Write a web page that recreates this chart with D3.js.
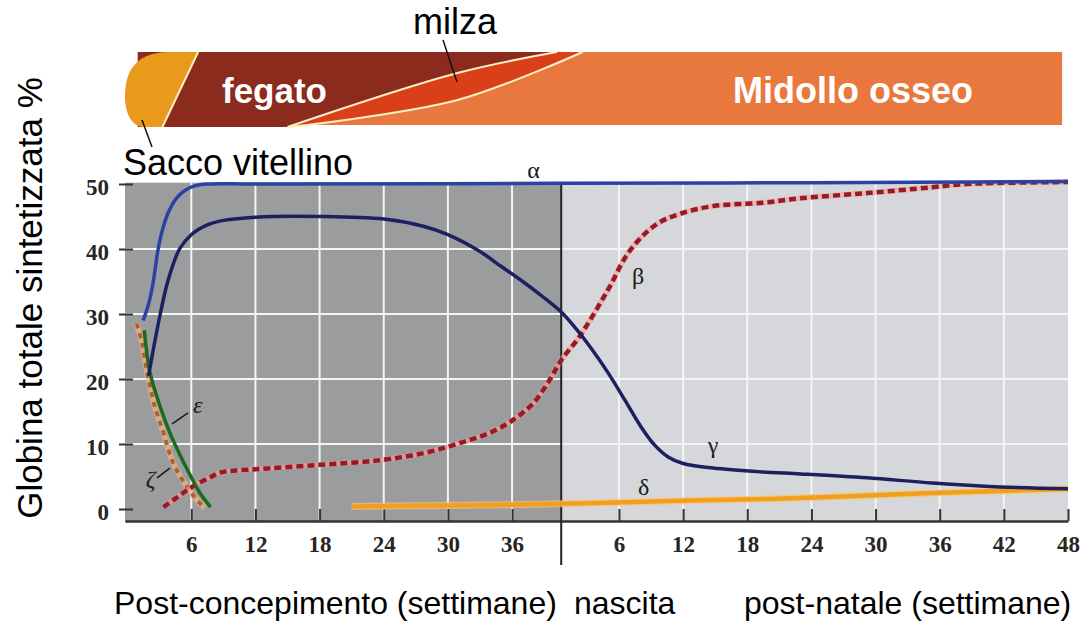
<!DOCTYPE html>
<html>
<head>
<meta charset="utf-8">
<script src="https://cdn.jsdelivr.net/npm/d3@7"></script>
<style>
  html, body { margin: 0; padding: 0; background: #fff; }
  svg { display: block; }
</style>
</head>
<body>
<svg id="chart" width="1085" height="625"></svg>
<script>
// weeks counted from conception; birth = week 40, post-natal week n = 40 + n
const preTicks = [6, 12, 18, 24, 30, 36];
const postTicks = [6, 12, 18, 24, 30, 36, 42, 48];
const yTicks = [0, 10, 20, 30, 40, 50];
const birthWeek = 40;
const nascita = 40.6;   // where the divider is drawn

// globin chains: [week, % of total globin synthesised]
const alpha = [[1.5,29],[2.0,31.5],[2.4,34.5],[2.9,40],[3.4,43.5],[3.9,45.8],[4.6,47.8],[5.4,49],[6.3,49.7],[7.5,50],[12,50],[40,50.1],[64,50.2],[88,50.4]];
const gamma = [[2.0,20.5],[2.5,25],[3.1,30],[3.8,35],[4.9,40],[6.0,42.2],[7.5,43.7],[9,44.4],[12,44.9],[18,45],[24,44.6],[27.7,43.5],[30,42.2],[33,39.6],[35,37.3],[37,35.0],[39,32.5],[40.6,30.3],[42,27.7],[43.5,24.5],[45,20.9],[46.5,16.9],[48,12.8],[49.3,9.9],[50.6,8.0],[52,7.0],[54.8,6.3],[59.4,5.7],[63,5.4],[69.2,4.8],[75.3,4.0],[81.6,3.4],[88,3.1]];
const beta = [[3.4,0.3],[4.5,1.6],[5.5,2.8],[6.5,3.8],[7.8,4.9],[8.7,5.6],[10,5.9],[12,6.1],[18,6.8],[23.6,7.5],[28.3,8.8],[31.4,10.3],[33.9,11.7],[36.1,13.7],[38,16.3],[39.5,19.8],[40.6,22.9],[42.3,26.5],[44.9,33.5],[47,39.7],[49.5,43.8],[51.7,45.4],[54.8,46.6],[59.4,47.1],[62.9,47.8],[69.2,48.6],[75.3,49.5],[78.5,50],[88,50.3]];
const delta = [[21,0.4],[30,0.55],[40.6,0.8],[50,1.2],[60,1.55],[65.7,1.85],[75.4,2.45],[88,3.1]];
const epsilon = [[1.6,27.5],[2.15,20.9],[3.1,15.7],[4.0,11.7],[5.0,8.1],[5.9,5.2],[6.8,2.5],[7.8,0.3]];
const zeta = [[0.9,28.5],[1.4,25.5],[1.9,20.8],[2.5,16.3],[3.4,11.7],[4.3,7.1],[5.6,3.4],[6.8,0.9],[7.3,0.2]];

// greek labels [text, week, value]
const chainLabels = [["α",38,51.7],["β",47.8,35.5],["γ",54.8,9.5],["δ",48.3,3.0],["ε",6.6,15.6],["ζ",2.2,4.3]];
const pointers = [[[4.2,13.1],[5.7,14.8]], [[2.8,4.8],[4.0,6.3]]];

// organ band boundaries (week, fraction of band height)
const yolkEdge = [[6.64,0],[3.3,1]];
const liverEdge = [[40.2,0],[30.9,0.28],[15.0,1]];
const spleenEdge = [[42.6,0],[30.9,0.64],[15.2,1]];
const bandEnd = 87.45;

const svg = d3.select("#chart");
const sans = "'Liberation Sans', Arial, sans-serif";
const serif = "'Liberation Serif', 'Times New Roman', serif";

const x = d3.scaleLinear().domain([-0.2, 88]).range([125, 1068]);
const y = d3.scaleLinear().domain([-2, 50]).range([522, 184]);
const yb = d3.scaleLinear().domain([0, 1]).range([52, 127]);

// --- organ band ---
const band = svg.append("g");
const edgeLine = d3.line().x(d => x(d[0])).y(d => yb(d[1])).curve(d3.curveCatmullRom);
const asTail = p => p.replace(/^M/, "L");

band.append("rect")
    .attr("x", x(3)).attr("y", yb(0))
    .attr("width", x(bandEnd) - x(3)).attr("height", yb(1) - yb(0) - 2)
    .attr("fill", "#e9783f");
band.append("path")
    .attr("d", `M${x(1)},${yb(0)}L${x(spleenEdge[0][0])},${yb(0)}` + asTail(edgeLine(spleenEdge)) + `L${x(1)},${yb(1)}Z`)
    .attr("fill", "#d9401a");
band.append("path")
    .attr("d", `M${x(1)},${yb(0)}L${x(liverEdge[0][0])},${yb(0)}` + asTail(edgeLine(liverEdge)) + `L${x(1)},${yb(1)}Z`)
    .attr("fill", "#8b2b1e");
band.append("path")
    .attr("d", `M${x(6.64)},${yb(0)}L${x(3.7)},${yb(0)}C${x(0.5)},${yb(0.02)} ${x(-0.2)},${yb(0.3)} ${x(-0.2)},${yb(0.6)}C${x(-0.2)},${yb(0.85)} ${x(0.6)},${yb(1)} ${x(1.5)},${yb(1)}L${x(3.3)},${yb(1)}Z`)
    .attr("fill", "#e99a1c");
[yolkEdge, liverEdge, spleenEdge].forEach(e => {
    band.append("path").attr("d", edgeLine(e))
        .attr("fill", "none").attr("stroke", "#fbefc6").attr("stroke-width", 2);
});

band.append("text").attr("x", 222).attr("y", 103).text("fegato")
    .style("font", `bold 35px ${sans}`).style("fill", "#fff");
band.append("text").attr("x", 733).attr("y", 103).text("Midollo osseo")
    .style("font", `bold 36px ${sans}`).style("fill", "#fff");
band.append("text").attr("x", 413).attr("y", 34).text("milza")
    .style("font", `36px ${sans}`).style("fill", "#000");
band.append("text").attr("x", 123).attr("y", 175).text("Sacco vitellino")
    .style("font", `36px ${sans}`).style("fill", "#000");
band.append("line").attr("x1", 443).attr("y1", 40).attr("x2", 457).attr("y2", 82)
    .attr("stroke", "#111").attr("stroke-width", 1.5);
band.append("line").attr("x1", 142).attr("y1", 120).attr("x2", 152).attr("y2", 147)
    .attr("stroke", "#111").attr("stroke-width", 1.5);

// --- plot background ---
const plot = svg.append("g");
plot.append("rect")
    .attr("x", x(-0.2)).attr("y", y(50.2))
    .attr("width", x(nascita) - x(-0.2)).attr("height", y(-2) - y(50.2))
    .attr("fill", "#9b9c9d");
plot.append("rect")
    .attr("x", x(nascita)).attr("y", y(50.2))
    .attr("width", x(88) - x(nascita)).attr("height", y(-2) - y(50.2))
    .attr("fill", "#d5d7da");

// grid
const gridWeeks = preTicks.concat(postTicks.slice(0, -1).map(d => d + birthWeek));
plot.selectAll(".vgrid").data(gridWeeks).enter().append("line")
    .attr("x1", d => x(d)).attr("x2", d => x(d))
    .attr("y1", y(50.2)).attr("y2", y(-2))
    .attr("stroke", "#f4f4f4").attr("stroke-width", 2);
plot.selectAll(".hgrid").data([10, 20, 30, 40]).enter().append("line")
    .attr("x1", x(-0.2)).attr("x2", x(88))
    .attr("y1", d => y(d)).attr("y2", d => y(d))
    .attr("stroke", "#f4f4f4").attr("stroke-width", 2);

// axes
const xAxis = d3.axisBottom(x)
    .tickValues(preTicks.concat(postTicks.map(d => d + birthWeek)))
    .tickFormat(d => d > birthWeek ? d - birthWeek : d)
    .tickSizeInner(-12).tickSizeOuter(0).tickPadding(15);
const gx = svg.append("g").attr("transform", `translate(0,${y(-2) - 1})`).call(xAxis);
gx.select(".domain").attr("stroke", "#333").attr("stroke-width", 2.5);
gx.selectAll(".tick line").attr("stroke", "#333").attr("stroke-width", 2);
gx.selectAll(".tick text").style("font", `bold 23px ${serif}`).style("fill", "#262626");

const yAxis = d3.axisLeft(y).tickValues(yTicks)
    .tickSizeInner(-14).tickSizeOuter(0).tickPadding(10);
const gy = svg.append("g").attr("transform", "translate(119,0)").call(yAxis);
gy.select(".domain").remove();
gy.selectAll(".tick line").attr("stroke", "#333").attr("stroke-width", 2);
gy.selectAll(".tick text").attr("dy", "0.45em").style("font", `bold 23px ${serif}`).style("fill", "#262626");

// birth divider
svg.append("line")
    .attr("x1", x(nascita)).attr("x2", x(nascita))
    .attr("y1", y(50.2)).attr("y2", 565)
    .attr("stroke", "#222").attr("stroke-width", 2);

// --- curves ---
const line = d3.line().x(d => x(d[0])).y(d => y(d[1])).curve(d3.curveCatmullRom.alpha(0.5));
const curves = svg.append("g").attr("fill", "none").attr("stroke-linecap", "butt");

curves.append("path").attr("d", line(delta)).attr("stroke", "#f7c86a").attr("stroke-width", 7).attr("opacity", 0.7);
curves.append("path").attr("d", line(delta)).attr("stroke", "#f0a01e").attr("stroke-width", 4.5);

curves.append("path").attr("d", line(zeta)).attr("stroke", "#e8b58a").attr("stroke-width", 6).attr("opacity", 0.7);
curves.append("path").attr("d", line(zeta)).attr("stroke", "#b0602b").attr("stroke-width", 4).attr("stroke-dasharray", "5,5");

curves.append("path").attr("d", line(beta)).attr("stroke", "#f2a090").attr("stroke-width", 5.5).attr("opacity", 0.55);
curves.append("path").attr("d", line(beta)).attr("stroke", "#981a2a").attr("stroke-width", 4.5).attr("stroke-dasharray", "7,4");

curves.append("path").attr("d", line(epsilon)).attr("stroke", "#1b6a1f").attr("stroke-width", 3.5);
curves.append("path").attr("d", line(gamma)).attr("stroke", "#1d2060").attr("stroke-width", 3.5);
curves.append("path").attr("d", line(alpha)).attr("stroke", "#2a43a3").attr("stroke-width", 3.5);

// chain labels
svg.selectAll(".chain").data(chainLabels).enter().append("text")
    .attr("x", d => x(d[1])).attr("y", d => y(d[2]))
    .attr("text-anchor", "middle").attr("dominant-baseline", "middle")
    .style("font", d => (d[0] === "ε" || d[0] === "ζ" ? "italic " : "") + `24px ${serif}`)
    .style("fill", "#1a1a1a")
    .text(d => d[0]);
svg.selectAll(".ptr").data(pointers).enter().append("line")
    .attr("x1", d => x(d[0][0])).attr("y1", d => y(d[0][1]))
    .attr("x2", d => x(d[1][0])).attr("y2", d => y(d[1][1]))
    .attr("stroke", "#1a1a1a").attr("stroke-width", 1.5);

// titles
svg.append("text")
    .attr("transform", "translate(42,298) rotate(-90)")
    .attr("text-anchor", "middle")
    .style("font", `35px ${sans}`).style("fill", "#000")
    .text("Globina totale sintetizzata %");
svg.append("text").attr("x", 114).attr("y", 614).text("Post-concepimento (settimane)")
    .style("font", `32px ${sans}`).style("fill", "#000");
svg.append("text").attr("x", 574).attr("y", 614).text("nascita")
    .style("font", `32px ${sans}`).style("fill", "#000");
svg.append("text").attr("x", 744).attr("y", 614).text("post-natale (settimane)")
    .style("font", `32px ${sans}`).style("fill", "#000");
</script>
</body>
</html>
